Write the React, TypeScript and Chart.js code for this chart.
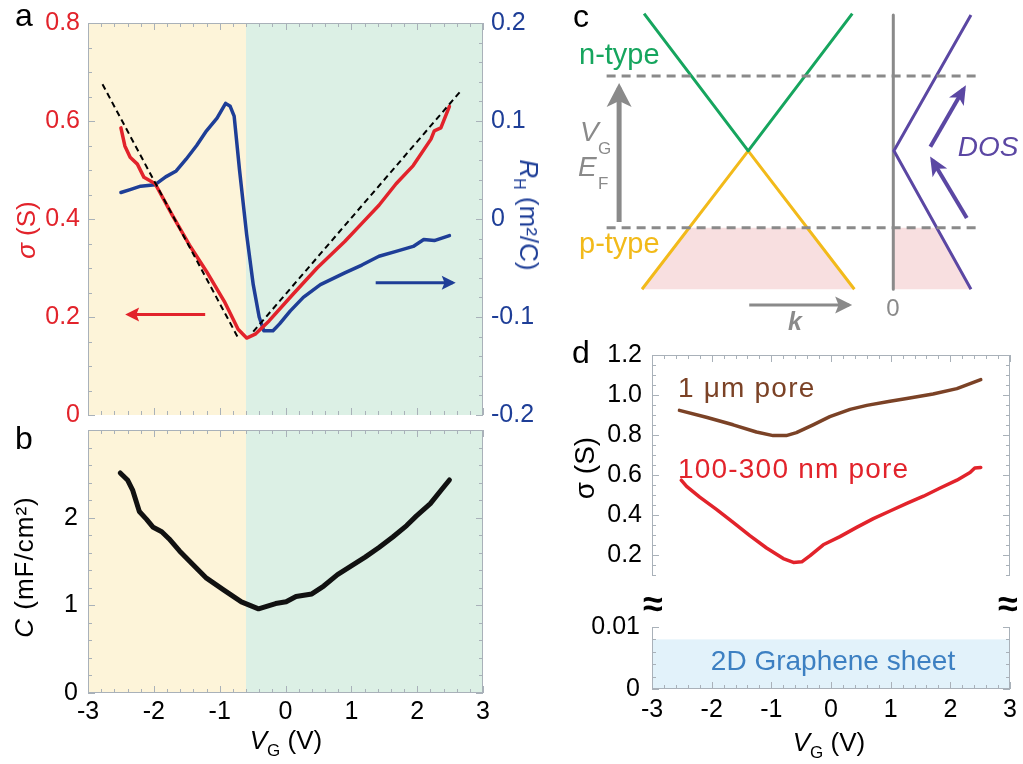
import React, { useEffect, useRef } from 'react';
import { Chart, registerables } from 'chart.js';

Chart.register(...registerables);

const FONT = '"Liberation Sans", Arial, Helvetica, sans-serif';
Chart.defaults.font.family = FONT;
Chart.defaults.font.size = 25;

const TICK_SIZE = 25;
const RED = '#e2232b';
const BLUE = '#1e3e97';
const FRAME = '#a9b1b9';
const BROWN = '#7b4226';
const GREEN = '#16a55e';
const YELLOW = '#f2ba1a';
const PURPLE = '#5b47a3';
const GRAY = '#8a8a8a';
const PINK = '#f8dfe0';

// ---------- Panel a : conductance sigma vs gate voltage ----------
const sigmaVg = [-2.5, -2.44, -2.36, -2.25, -2.15, -1.98, -1.72, -1.46, -1.2, -0.93, -0.72, -0.59, -0.46, -0.25, 0.11, 0.48, 0.9, 1.16, 1.42, 1.68, 1.94, 2.21, 2.26, 2.36, 2.49];
const sigmaS = [0.586, 0.549, 0.526, 0.512, 0.485, 0.472, 0.408, 0.347, 0.293, 0.232, 0.175, 0.157, 0.165, 0.192, 0.246, 0.3, 0.354, 0.391, 0.428, 0.472, 0.509, 0.563, 0.58, 0.586, 0.63];
// Hall coefficient R_H
const rhVg = [-2.5, -2.36, -2.2, -1.98, -1.82, -1.66, -1.51, -1.35, -1.2, -1.04, -0.91, -0.84, -0.78, -0.7, -0.59, -0.49, -0.4, -0.33, -0.19, -0.09, 0.07, 0.27, 0.53, 0.9, 1.16, 1.42, 1.68, 1.94, 2.1, 2.26, 2.49];
const rhVal = [0.027, 0.03, 0.0335, 0.035, 0.043, 0.049, 0.061, 0.075, 0.09, 0.103, 0.118, 0.115, 0.105, 0.051, -0.016, -0.067, -0.1, -0.114, -0.114, -0.107, -0.094, -0.08, -0.067, -0.055, -0.047, -0.038, -0.033, -0.028, -0.021, -0.022, -0.017];
// dashed linear guides
const fitLeftVg = [-2.78, -0.73];
const fitLeftS = [0.675, 0.16];
const fitRightVg = [-0.49, 2.68];
const fitRightS = [0.17, 0.664];
// axis-direction arrows
const redArrowVg = [-1.22, -2.39];
const redArrowS = [0.205, 0.205];
const blueArrowVg = [1.37, 2.54];
const blueArrowR = [-0.065, -0.065];
// shaded p / n regions
const regionEdges = [-3, -0.6, 3];
const regionColors = ['#fdf4d9', '#dcf0e5'];

// ---------- Panel b : capacitance ----------
const capVg = [-2.51, -2.4, -2.32, -2.22, -2.11, -2.01, -1.88, -1.77, -1.61, -1.4, -1.2, -0.93, -0.67, -0.41, -0.15, 0.01, 0.16, 0.4, 0.58, 0.79, 1.0, 1.21, 1.42, 1.63, 1.84, 1.99, 2.2, 2.36, 2.49];
const capC = [2.51, 2.43, 2.31, 2.07, 1.98, 1.89, 1.84, 1.76, 1.62, 1.46, 1.31, 1.17, 1.04, 0.96, 1.02, 1.04, 1.1, 1.13, 1.22, 1.35, 1.45, 1.55, 1.66, 1.78, 1.91, 2.02, 2.16, 2.31, 2.43];

// ---------- Panel d : pore size comparison ----------
const dBrownVg = [-2.54, -2.09, -1.64, -1.25, -0.97, -0.75, -0.58, -0.3, -0.02, 0.32, 0.6, 0.99, 1.27, 1.71, 2.11, 2.51];
const dBrownS = [0.923, 0.889, 0.851, 0.815, 0.797, 0.797, 0.812, 0.851, 0.892, 0.928, 0.948, 0.969, 0.982, 1.005, 1.032, 1.077];
const dRedVg = [-2.51, -2.42, -2.2, -1.92, -1.64, -1.36, -1.08, -0.8, -0.63, -0.49, -0.35, -0.13, 0.15, 0.43, 0.71, 0.99, 1.27, 1.55, 1.83, 2.11, 2.33, 2.41, 2.51];
const dRedS = [0.574, 0.543, 0.489, 0.428, 0.363, 0.297, 0.235, 0.182, 0.163, 0.166, 0.197, 0.251, 0.292, 0.338, 0.382, 0.42, 0.458, 0.494, 0.535, 0.574, 0.612, 0.635, 0.638];
const graphene2D = [0, 0.008]; // band for 2D sheet (S)

// ---------- tick labels ----------
const vgTicks = [-3, -2, -1, 0, 1, 2, 3];
const sigmaTicks = [0, 0.2, 0.4, 0.6, 0.8];
const rhTicks = [-0.2, -0.1, 0, 0.1, 0.2];
const capTicks = [0, 1, 2];
const dUpperTicks = [0.2, 0.4, 0.6, 0.8, 1.0, 1.2];
const dLowerTicks = [0, 0.01];

// ---------- Panel c : schematic (k, E) ----------
const coneK = [-1, 0, 1];
const condE = [1, 0, 1];
const valK = [-1.02, 0, 1.02];
const valE = [-1.01, 0, -1.01];
const levelK = [-1.36, 2.21];
const nLevelE = [0.545, 0.545];
const pLevelE = [-0.561, -0.561];
const fermiArrowK = [-1.24, -1.24];
const fermiArrowE = [-0.52, 0.46];
const kArrowK = [0.01, 0.97];
const kArrowE = [-1.125, -1.125];
const dosAxisK = [1.394, 1.394];
const dosAxisE = [0.99, -1.01];
const dosK = [2.14, 1.4, 2.14];
const dosE = [0.99, 0, -1.01];
const dosArrow1K = [2.1, 1.77];
const dosArrow1E = [-0.49, -0.07];
const dosArrow2K = [1.75, 2.07];
const dosArrow2E = [0.03, 0.45];
const holeFillK = [-1.02, -0.56, 0.56, 1.02];
const holeFillE = [-1.01, -0.561, -0.561, -1.01];
const dosFillK = [1.394, 1.815, 2.14];
const dosFillE = [-0.561, -0.561, -1.01];

// ---------- helpers ----------
const pts = (xs: number[], ys: number[]) => xs.map((x, i) => ({ x, y: ys[i] }));
const steps = (a: number, b: number, s: number) => {
  const out: number[] = [];
  const n = Math.round((b - a) / s);
  for (let i = 0; i <= n; i++) out.push(+(a + i * s).toFixed(6));
  return out;
};

type TickSpec = { edge: 'left' | 'right' | 'top' | 'bottom'; scale: string; values: number[]; len: number };
type RectSpec = { x0: number; x1: number; y0: number; y1: number; color: string; yScale?: string };

function makeFrame(cfg: { edges: string[]; ticks: TickSpec[]; rects?: RectSpec[] }) {
  return {
    id: 'frame',
    beforeDatasetsDraw(chart: any) {
      const { ctx, chartArea: a } = chart;
      ctx.save();
      for (const r of cfg.rects || []) {
        const xs = chart.scales.x;
        const ys = chart.scales[r.yScale || 'y'];
        const x0 = xs.getPixelForValue(r.x0);
        const x1 = xs.getPixelForValue(r.x1);
        const y0 = ys.getPixelForValue(r.y0);
        const y1 = ys.getPixelForValue(r.y1);
        ctx.fillStyle = r.color;
        ctx.fillRect(Math.min(x0, x1), Math.min(y0, y1), Math.abs(x1 - x0), Math.abs(y1 - y0));
      }
      ctx.strokeStyle = FRAME;
      ctx.lineWidth = 1;
      const L = Math.round(a.left) + 0.5;
      const R = Math.round(a.right) - 0.5;
      const T = Math.round(a.top) + 0.5;
      const B = Math.round(a.bottom) - 0.5;
      ctx.beginPath();
      if (cfg.edges.includes('left')) { ctx.moveTo(L, a.top); ctx.lineTo(L, a.bottom); }
      if (cfg.edges.includes('right')) { ctx.moveTo(R, a.top); ctx.lineTo(R, a.bottom); }
      if (cfg.edges.includes('top')) { ctx.moveTo(a.left, T); ctx.lineTo(a.right, T); }
      if (cfg.edges.includes('bottom')) { ctx.moveTo(a.left, B); ctx.lineTo(a.right, B); }
      for (const t of cfg.ticks) {
        const s = chart.scales[t.scale];
        for (const v of t.values) {
          const p = Math.round(s.getPixelForValue(v)) + 0.5;
          if (t.edge === 'left') { ctx.moveTo(a.left, p); ctx.lineTo(a.left + t.len, p); }
          if (t.edge === 'right') { ctx.moveTo(a.right, p); ctx.lineTo(a.right - t.len, p); }
          if (t.edge === 'top') { ctx.moveTo(p, a.top); ctx.lineTo(p, a.top + t.len); }
          if (t.edge === 'bottom') { ctx.moveTo(p, a.bottom); ctx.lineTo(p, a.bottom - t.len); }
        }
      }
      ctx.stroke();
      ctx.restore();
    },
  };
}

const arrowPlugin = {
  id: 'arrowHeads',
  afterDatasetsDraw(chart: any) {
    const ctx = chart.ctx;
    chart.data.datasets.forEach((ds: any, i: number) => {
      if (!ds.arrowHead) return;
      const el = chart.getDatasetMeta(i).data;
      const n = el.length;
      if (n < 2) return;
      const t = el[n - 1];
      const p = el[n - 2];
      let ux = t.x - p.x;
      let uy = t.y - p.y;
      const d = Math.hypot(ux, uy) || 1;
      ux /= d; uy /= d;
      const nx = -uy;
      const ny = ux;
      const { len, width, notch } = ds.arrowHead;
      const ext = (ds.borderWidth * len) / width;
      const tx = t.x + ux * ext;
      const ty = t.y + uy * ext;
      ctx.save();
      ctx.fillStyle = ds.borderColor;
      ctx.beginPath();
      ctx.moveTo(tx, ty);
      ctx.lineTo(tx - ux * len + (nx * width) / 2, ty - uy * len + (ny * width) / 2);
      ctx.lineTo(tx - ux * len * (1 - notch), ty - uy * len * (1 - notch));
      ctx.lineTo(tx - ux * len - (nx * width) / 2, ty - uy * len - (ny * width) / 2);
      ctx.closePath();
      ctx.fill();
      ctx.restore();
    });
  },
};

function lineDs(data: any[], color: string, width: number, extra: any = {}) {
  return {
    data,
    showLine: true,
    borderColor: color,
    backgroundColor: color,
    borderWidth: width,
    pointRadius: 0,
    fill: false,
    tension: 0,
    borderJoinStyle: 'round',
    borderCapStyle: 'round',
    ...extra,
  };
}

function yScale(o: { min: number; max: number; ticks: number[]; width: number; color: string; position?: string; fmt?: (v: number) => string; pad?: number }) {
  return {
    type: 'linear',
    position: o.position || 'left',
    min: o.min,
    max: o.max,
    grid: { display: false, drawTicks: false },
    border: { display: false },
    afterBuildTicks: (s: any) => { s.ticks = o.ticks.map((v) => ({ value: v })); },
    afterFit: (s: any) => { s.width = o.width; },
    ticks: {
      color: o.color,
      font: { family: FONT, size: TICK_SIZE },
      padding: o.pad ?? 8,
      autoSkip: false,
      callback: (v: number) => (o.fmt ? o.fmt(v) : String(v)),
    },
  };
}

function xScale(show: boolean, height = 0, pad = 4) {
  if (!show) return { type: 'linear', min: -3, max: 3, display: false };
  return {
    type: 'linear',
    min: -3,
    max: 3,
    grid: { display: false, drawTicks: false },
    border: { display: false },
    afterBuildTicks: (s: any) => { s.ticks = vgTicks.map((v) => ({ value: v })); },
    afterFit: (s: any) => { s.height = height; },
    ticks: { color: '#000', font: { family: FONT, size: TICK_SIZE }, padding: pad, autoSkip: false, maxRotation: 0, callback: (v: number) => String(v) },
  };
}

const baseOpts = {
  responsive: false,
  animation: false,
  events: [],
  plugins: { legend: { display: false }, tooltip: { enabled: false } },
};

const xMinor = steps(-3, 3, 0.2);

function configA() {
  return {
    type: 'scatter',
    data: {
      datasets: [
        lineDs(pts(fitLeftVg, fitLeftS), '#000', 2, { borderDash: [6, 4], borderCapStyle: 'butt' }),
        lineDs(pts(fitRightVg, fitRightS), '#000', 2, { borderDash: [6, 4], borderCapStyle: 'butt' }),
        lineDs(pts(sigmaVg, sigmaS), RED, 3.5),
        lineDs(pts(rhVg, rhVal), BLUE, 3.5, { yAxisID: 'y2' }),
        lineDs(pts(redArrowVg, redArrowS), RED, 3, { borderCapStyle: 'butt', arrowHead: { len: 14, width: 14, notch: 0.2 } }),
        lineDs(pts(blueArrowVg, blueArrowR), BLUE, 3, { yAxisID: 'y2', borderCapStyle: 'butt', arrowHead: { len: 14, width: 14, notch: 0.2 } }),
      ],
    },
    options: {
      ...baseOpts,
      layout: { padding: { top: 19, bottom: 25, left: 0, right: 0 } },
      scales: {
        x: xScale(false),
        y: yScale({ min: 0, max: 0.8, ticks: sigmaTicks, width: 88, color: RED }),
        y2: yScale({ min: -0.2, max: 0.2, ticks: rhTicks, width: 57, color: BLUE, position: 'right', pad: 8 }),
      },
    },
    plugins: [
      makeFrame({
        edges: ['left', 'right', 'top'],
        rects: [
          { x0: regionEdges[0], x1: regionEdges[1], y0: 0, y1: 0.8, color: regionColors[0] },
          { x0: regionEdges[1], x1: regionEdges[2], y0: 0, y1: 0.8, color: regionColors[1] },
        ],
        ticks: [
          { edge: 'top', scale: 'x', values: vgTicks, len: 7 },
          { edge: 'top', scale: 'x', values: xMinor, len: 4 },
          { edge: 'bottom', scale: 'x', values: vgTicks, len: 7 },
          { edge: 'bottom', scale: 'x', values: xMinor, len: 4 },
          { edge: 'left', scale: 'y', values: sigmaTicks, len: 7 },
          { edge: 'left', scale: 'y', values: steps(0, 0.8, 0.05), len: 4 },
          { edge: 'right', scale: 'y2', values: rhTicks, len: 7 },
          { edge: 'right', scale: 'y2', values: steps(-0.2, 0.2, 0.02), len: 4 },
        ],
      }),
      arrowPlugin,
    ],
  };
}

function configB() {
  return {
    type: 'scatter',
    data: { datasets: [lineDs(pts(capVg, capC), '#111', 5)] },
    options: {
      ...baseOpts,
      layout: { padding: { top: 10, bottom: 0, left: 0, right: 57 } },
      scales: {
        x: xScale(true, 71, 4),
        y: yScale({ min: 0, max: 3, ticks: capTicks, width: 88, color: '#000', pad: 10 }),
      },
    },
    plugins: [
      makeFrame({
        edges: ['left', 'right', 'top', 'bottom'],
        rects: [
          { x0: regionEdges[0], x1: regionEdges[1], y0: 0, y1: 3, color: regionColors[0] },
          { x0: regionEdges[1], x1: regionEdges[2], y0: 0, y1: 3, color: regionColors[1] },
        ],
        ticks: [
          { edge: 'top', scale: 'x', values: vgTicks, len: 7 },
          { edge: 'top', scale: 'x', values: xMinor, len: 4 },
          { edge: 'bottom', scale: 'x', values: vgTicks, len: 7 },
          { edge: 'bottom', scale: 'x', values: xMinor, len: 4 },
          { edge: 'left', scale: 'y', values: [0, 1, 2, 3], len: 7 },
          { edge: 'left', scale: 'y', values: steps(0, 3, 0.2), len: 4 },
          { edge: 'right', scale: 'y', values: [0, 1, 2, 3], len: 7 },
          { edge: 'right', scale: 'y', values: steps(0, 3, 0.2), len: 4 },
        ],
      }),
    ],
  };
}

function configC() {
  return {
    type: 'scatter',
    data: {
      datasets: [
        lineDs(pts(levelK, nLevelE), GRAY, 3, { borderDash: [9, 6], borderCapStyle: 'butt' }),
        lineDs(pts(levelK, pLevelE), GRAY, 3, { borderDash: [9, 6], borderCapStyle: 'butt' }),
        lineDs(pts(coneK, condE), GREEN, 3, { borderCapStyle: 'butt' }),
        lineDs(pts(valK, valE), YELLOW, 3, { borderCapStyle: 'butt' }),
        lineDs(pts(dosK, dosE), PURPLE, 3, { borderCapStyle: 'butt' }),
        lineDs(pts(dosAxisK, dosAxisE), GRAY, 3, { borderCapStyle: 'butt' }),
        lineDs(pts(fermiArrowK, fermiArrowE), GRAY, 5, { borderCapStyle: 'butt', arrowHead: { len: 24, width: 25, notch: 0.25 } }),
        lineDs(pts(kArrowK, kArrowE), GRAY, 3, { borderCapStyle: 'butt', arrowHead: { len: 17, width: 17, notch: 0.2 } }),
        lineDs(pts(dosArrow1K, dosArrow1E), PURPLE, 4, { borderCapStyle: 'butt', arrowHead: { len: 19, width: 17, notch: 0.25 } }),
        lineDs(pts(dosArrow2K, dosArrow2E), PURPLE, 4, { borderCapStyle: 'butt', arrowHead: { len: 19, width: 17, notch: 0.25 } }),
        lineDs(pts(holeFillK, holeFillE), PINK, 0, { fill: { value: -1.01 }, backgroundColor: PINK }),
        lineDs(pts(dosFillK, dosFillE), PINK, 0, { fill: { value: -1.01 }, backgroundColor: PINK }),
      ],
    },
    options: {
      ...baseOpts,
      layout: { padding: 0 },
      scales: {
        x: { type: 'linear', min: -2.0, max: 2.64, display: false },
        y: { type: 'linear', min: -1.38, max: 1.1, display: false },
      },
    },
    plugins: [arrowPlugin],
  };
}

function configDUpper() {
  return {
    type: 'scatter',
    data: {
      datasets: [
        lineDs(pts(dBrownVg, dBrownS), BROWN, 3.5),
        lineDs(pts(dRedVg, dRedS), RED, 3.5),
      ],
    },
    options: {
      ...baseOpts,
      layout: { padding: { top: 23, bottom: 10, left: 0, right: 13 } },
      scales: {
        x: xScale(false),
        y: yScale({ min: 0.1, max: 1.2, ticks: dUpperTicks, width: 112, color: '#000', pad: 10, fmt: (v) => v.toFixed(1) }),
      },
    },
    plugins: [
      makeFrame({
        edges: ['left', 'right', 'top'],
        ticks: [
          { edge: 'top', scale: 'x', values: vgTicks, len: 7 },
          { edge: 'top', scale: 'x', values: xMinor, len: 4 },
          { edge: 'left', scale: 'y', values: dUpperTicks, len: 7 },
          { edge: 'left', scale: 'y', values: steps(0.1, 1.2, 0.05), len: 4 },
          { edge: 'right', scale: 'y', values: dUpperTicks, len: 7 },
          { edge: 'right', scale: 'y', values: steps(0.1, 1.2, 0.05), len: 4 },
        ],
      }),
    ],
  };
}

function configDLower() {
  return {
    type: 'scatter',
    data: { datasets: [] },
    options: {
      ...baseOpts,
      layout: { padding: { top: 18, bottom: 0, left: 0, right: 13 } },
      scales: {
        x: xScale(true, 75, 6),
        y: yScale({ min: 0, max: 0.01, ticks: dLowerTicks, width: 112, color: '#000', pad: 12, fmt: (v) => (v === 0 ? '0' : String(v)) }),
      },
    },
    plugins: [
      makeFrame({
        edges: ['left', 'right', 'bottom'],
        rects: [{ x0: -3, x1: 3, y0: graphene2D[0], y1: graphene2D[1], color: '#e2f2fa' }],
        ticks: [
          { edge: 'bottom', scale: 'x', values: vgTicks, len: 7 },
          { edge: 'bottom', scale: 'x', values: xMinor, len: 4 },
          { edge: 'left', scale: 'y', values: dLowerTicks, len: 7 },
          { edge: 'left', scale: 'y', values: steps(0, 0.01, 0.002), len: 4 },
          { edge: 'right', scale: 'y', values: dLowerTicks, len: 7 },
          { edge: 'right', scale: 'y', values: steps(0, 0.01, 0.002), len: 4 },
        ],
      }),
    ],
  };
}

function ChartBox({ left, top, width, height, make }: { left: number; top: number; width: number; height: number; make: () => any }) {
  const ref = useRef<HTMLCanvasElement>(null);
  useEffect(() => {
    const c = new Chart(ref.current as HTMLCanvasElement, make());
    return () => c.destroy();
  }, []);
  return <canvas ref={ref} width={width} height={height} style={{ position: 'absolute', left, top, width, height }} />;
}

function T({ x, y, size, color = '#000', align = 'center', rotate = 0, bold = false, italic = false, spacing = 0, children }: any) {
  const tx = align === 'center' ? '-50%' : align === 'left' ? '0%' : '-100%';
  return (
    <div
      style={{
        position: 'absolute',
        left: x,
        top: y,
        transform: `translate(${tx}, -50%) rotate(${rotate}deg)`,
        fontSize: size,
        lineHeight: 1,
        color,
        whiteSpace: 'nowrap',
        fontWeight: bold ? 'bold' : 'normal',
        fontStyle: italic ? 'italic' : 'normal',
        letterSpacing: spacing,
      }}
    >
      {children}
    </div>
  );
}

const Sub = ({ children, size, drop }: any) => (
  <span style={{ fontSize: size, fontStyle: 'normal', position: 'relative', top: drop }}>{children}</span>
);

export default function App() {
  return (
    <div style={{ position: 'absolute', left: 0, top: 0, width: 1023, height: 764, background: '#fff', fontFamily: FONT, overflow: 'hidden' }}>
      <ChartBox left={0} top={0} width={540} height={440} make={configA} />
      <ChartBox left={0} top={405} width={540} height={359} make={configB} />
      <ChartBox left={540} top={0} width={483} height={340} make={configC} />
      <ChartBox left={540} top={330} width={483} height={270} make={configDUpper} />
      <ChartBox left={540} top={600} width={483} height={164} make={configDLower} />

      {/* panel letters */}
      <T x={24} y={15} size={32}>a</T>
      <T x={24} y={438} size={32}>b</T>
      <T x={581} y={16} size={32}>c</T>
      <T x={581} y={352} size={32}>d</T>

      {/* panel a/b axis titles */}
      <T x={26} y={230} size={26} color={RED} rotate={-90}><i>σ</i> (S)</T>
      <T x={529} y={215} size={26} color={BLUE} rotate={90}><i>R</i><Sub size={16} drop={6}>H</Sub> (m²/C)</T>
      <T x={24} y={567} size={26} rotate={-90} spacing={1}><i>C</i> (mF/cm²)</T>
      <T x={286} y={740} size={26}><i>V</i><Sub size={17} drop={7}>G</Sub> (V)</T>

      {/* panel c annotations */}
      <T x={579} y={54} size={29} color={GREEN} align="left">n-type</T>
      <T x={579} y={243} size={29} color={YELLOW} align="left">p-type</T>
      <T x={580} y={132} size={28} color={GRAY} align="left" italic>V</T>
      <T x={598} y={148} size={17} color={GRAY} align="left">G</T>
      <T x={578} y={167} size={28} color={GRAY} align="left" italic>E</T>
      <T x={598} y={183} size={17} color={GRAY} align="left">F</T>
      <T x={988} y={147} size={28} color={PURPLE} italic>DOS</T>
      <T x={795} y={321} size={25} color={GRAY} italic bold>k</T>
      <T x={893} y={308} size={24} color={GRAY}>0</T>

      {/* panel d annotations */}
      <T x={585} y={468} size={28} rotate={-90}>σ (S)</T>
      <T x={829} y={742} size={26}><i>V</i><Sub size={17} drop={7}>G</Sub> (V)</T>
      <T x={678} y={388} size={28} color={BROWN} align="left" spacing={1.2}>1 μm pore</T>
      <T x={678} y={469} size={28} color={RED} align="left" spacing={1.2}>100-300 nm pore</T>
      <T x={833} y={661} size={28} color="#3d80c2">2D Graphene sheet</T>
      <T x={653} y={604} size={36} bold>≈</T>
      <T x={1008} y={604} size={36} bold>≈</T>
    </div>
  );
}
